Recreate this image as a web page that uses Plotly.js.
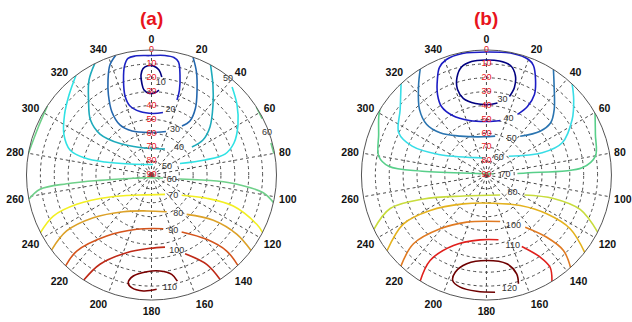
<!DOCTYPE html>
<html><head><meta charset="utf-8">
<script src="https://cdn.plot.ly/plotly-3.0.1.min.js"></script>
<style>html,body{margin:0;padding:0;background:#fff}#chart{width:632px;height:322px}</style>
</head><body><div id="chart"></div>
<script>
// angular / radial ticks
const angleTicks = [0,20,40,60,80,100,120,140,160,180,200,220,240,260,280,300,320,340];
const radialTicks = [0,10,20,30,40,50,60,70,80,90];
const panelTitles = ['(a)','(b)'];

// ---------- Panel (a): contour lines, r = elevation label, t = azimuth ----------
const a10_r = [19,14,11.5,11.3,13,17.6,23.6,28.6,31.2,30.7,28.6];
const a10_t = [6,4,1,-2,-4.5,-6,-6,-5,-1.5,2.5,5];
const a20_r = [44.3,45.7,43.6,38,30,18.7,9.1,4.4,3.5,4,3.4,3.9,6.3,15.1,25.6,33];
const a20_t = [10.4,1.4,-10.3,-17.3,-18.5,-16.4,-13.9,-11.4,-7.9,-0.7,6.4,10.8,13.4,15.9,18.2,18.8];
const a30_r = [0,5.3,14.8,24.6,36.4,47.4,55.4,59.4,57,null,48.5,42.3,32.3,20.6,9.1,0];
const a30_t = [-16.6,-20.7,-24.6,-28.3,-32.1,-32.2,-23.9,-2,18.4,null,31.9,35.5,33.3,28.2,23.6,19.4];
const a40_r = [0,8.1,19.5,30.9,42.6,58,68.5,68.9,null,54.6,45.2,35.5,22.9,11.5,0];
const a40_t = [-27,-33.3,-40,-48,-51.5,-45,-22.7,27.4,null,55.3,55.8,50.6,41.3,34.3,28.2];
const a50_r = [0,7.3,13.9,20.7,28.6,40.6,55.2,72.6,82.4,null,67.9,50,35,26.3,18.1,10.4,4.1];
const a50_t = [-37.2,-45.9,-55.4,-65.4,-72.9,-75.7,-74.4,-62.9,8.1,null,68,74.3,74.1,68.8,60,50.7,42.5];
const a60L_r = [0,1.5,0];
const a60L_t = [-56.3,-66.4,-80.1];
const a60R_r = [0,0.6,null,1.0,0.5];
const a60R_t = [57,63,null,75,80];
const a60_r = [0,9.1,28.7,52.7,76.7,86,81.4,null,69.3,42.8,25.9,8.5,0];
const a60_t = [258.8,262.7,264.1,264.1,259.7,241,104.6,null,98,95.3,96.4,99,102.7];
const a70_r = [0,13.4,32.2,56.2,73.4,73,null,63.8,46.9,27,6.3,0];
const a70_t = [242.6,247.3,248.6,242.1,209.9,145,null,123.9,112.9,110.8,115.1,117.3];
const a80_r = [0,16.8,38,56.7,63.9,61.4,null,52,34.8,15.3,0];
const a80_t = [233.1,236.6,233.7,217.5,187.6,157.5,null,138.2,126.2,124.8,127.2];
const a90_r = [0,13.2,35.5,49.5,50.4,null,43.6,29,13,0];
const a90_t = [223.4,224.5,216.3,195.2,167.6,null,152.1,139.4,135.3,136.3];
const a100_r = [0,15.8,31.3,37.2,37.2,null,28.4,14.4,0];
const a100_t = [212.8,210,197.7,181.2,169.4,null,156.9,148.3,146.7];
const a110_r = [7.6,6.3,7.6,10.7,16.1,20.3,20.6,17,11.4];
const a110_t = [177.4,184,190,192.2,190.2,182.8,174.9,168.5,166.3];
const aLabel_text = ['10','20','30','40','50','50','60','60','70','80','90','100','110'];
const aLabel_r = [23.6,40.9,53,62,77.3,1.6,1.4,75.1,68.2,56.1,46.7,32.8,7.8];
const aLabel_t = [5.7,16.2,27.2,45,61.3,38.6,70,102,133.9,145.3,158.7,161.5,170.7];

// ---------- Panel (b) ----------
const b30_r = [31.1,23.8,15.4,9.3,7.4,7.2,7.6,10.2,16.6,25,32.5,37.9,39.2,37.6];
const b30_t = [16.3,17.7,16.2,12.4,6.5,-0.5,-7.5,-13,-16.8,-18.7,-16.7,-8.7,2.4,8.7];
const b40_r = [41,32.5,22.5,12.7,4.2,1.5,0.5,1.4,0.8,2,5.5,12.7,22.2,31,40.7,48.9,51.5,49.5];
const b40_t = [27.1,30.9,30.8,27.2,23.2,20,12.1,0.5,-11.2,-19.1,-23.6,-27.2,-31.3,-33.3,-29.7,-17.3,1.1,14.4];
const b50_r = [0,9.5,22.5,33.7,44.9,56.2,62.4,61.3,null,53,40.1,30.4,22.2,9.6,0];
const b50_t = [-32,-37.4,-45.6,-49.8,-47.7,-34.1,-4.5,12.6,null,41,50.8,50.9,46,37.3,32.4];
const b60_r = [0,12,19.9,32.6,52.6,76.4,77.6,null,69,46.8,30.7,16.5,6.9,0];
const b60_t = [-43.1,-52.8,-64.3,-68.8,-66.7,-24.1,-3.3,null,49.9,68.3,67,57.1,49.1,43.3];
const b70_r = [0,1.7,7.1,11.3,19.4,43.6,86.7,84.9,null,67.7,59.5,20.9,10.4,6.3,0];
const b70_t = [-58.4,-61.4,-69.4,-80.1,-84.9,-86.6,-70.8,80.3,null,87.2,87,85.7,80.2,69.6,60.3];
const b80_r = [0,16.6,41.5,67.6,72.6,null,59.1,38.9,18.1,0];
const b80_t = [244.2,250.8,249.1,227.6,145.6,null,117.8,109.3,110.2,117.2];
const b90_r = [0,20.7,42.1,63.4,69.1,57.2,38.4,18.4,0];
const b90_t = [232.7,239.5,237.8,218.6,166.1,132.1,122.8,122.7,128.2];
const b100_r = [0,17.8,38.9,53.2,55.1,null,43.2,27.6,12.4,0];
const b100_t = [223.2,226.7,220.7,202.7,163.6,null,143.4,135.9,134.4,137.7];
const b110_r = [0,16.3,34,43.1,42.6,null,32.6,19.3,9.3,0];
const b110_t = [212,213.4,205.1,185.6,169.5,null,153.7,146.8,145.4,148.4];
const b120_r = [8.4,15.6,24.4,28.4,24.5,16.5,10.2,7.1,6,5.4];
const b120_t = [163.6,163,167.1,179.8,192.5,197.8,197.7,193.2,184.8,175.8];
const bLabel_text = ['30','40','50','60','70','80','100','110','120'];
const bLabel_r = [34.4,46.5,58.2,74.8,76.3,67.4,48.8,35.9,6.4];
const bLabel_t = [12,21.4,35,35.6,88.5,123.9,151.9,159.5,168.6];

// ---------- styles ----------
const colA = {c10:'#000080',c20:'#1c22c4',c30:'#2467ad',c40:'#1eaabb',c50:'#30e2e4',c60:'#6fd08a',c70:'#f2ef22',c80:'#dca128',c90:'#d4541c',c100:'#bf2a18',c110:'#7a0000'};
const colB = {c30:'#000080',c40:'#1c1cc4',c50:'#2a74b0',c60:'#38dde6',c70:'#58cf8a',c80:'#c8dc3c',c90:'#e4b21e',c100:'#e07a22',c110:'#e0201c',c120:'#6e0000'};

function line(r, t, color, sub) {
  return {type:'scatterpolar', r:r, theta:t, mode:'lines', subplot:sub,
    line:{color:color, width:1.6, shape:'spline', smoothing:1}, connectgaps:false, hoverinfo:'skip', showlegend:false};
}
function labels(r, t, txt, sub, color, size) {
  return {type:'scatterpolar', r:r, theta:t, text:txt, mode:'text', subplot:sub,
    textfont:{color:color, size:size, family:'Liberation Sans, Arial'}, textposition:'middle center',
    hoverinfo:'skip', showlegend:false, cliponaxis:false};
}

const traces = [
  line(a10_r,a10_t,colA.c10,'polar'), line(a20_r,a20_t,colA.c20,'polar'),
  line(a30_r,a30_t,colA.c30,'polar'), line(a40_r,a40_t,colA.c40,'polar'),
  line(a50_r,a50_t,colA.c50,'polar'), line(a60L_r,a60L_t,colA.c60,'polar'),
  line(a60R_r,a60R_t,colA.c60,'polar'), line(a60_r,a60_t,colA.c60,'polar'),
  line(a70_r,a70_t,colA.c70,'polar'), line(a80_r,a80_t,colA.c80,'polar'),
  line(a90_r,a90_t,colA.c90,'polar'), line(a100_r,a100_t,colA.c100,'polar'),
  line(a110_r,a110_t,colA.c110,'polar'),
  line(b30_r,b30_t,colB.c30,'polar2'), line(b40_r,b40_t,colB.c40,'polar2'),
  line(b50_r,b50_t,colB.c50,'polar2'), line(b60_r,b60_t,colB.c60,'polar2'),
  line(b70_r,b70_t,colB.c70,'polar2'), line(b80_r,b80_t,colB.c80,'polar2'),
  line(b90_r,b90_t,colB.c90,'polar2'), line(b100_r,b100_t,colB.c100,'polar2'),
  line(b110_r,b110_t,colB.c110,'polar2'), line(b120_r,b120_t,colB.c120,'polar2'),
  labels(aLabel_r,aLabel_t,aLabel_text,'polar','#333',9),
  labels(bLabel_r,bLabel_t,bLabel_text,'polar2','#333',9),
  labels(radialTicks, radialTicks.map(()=>0), radialTicks.map(String),'polar','#e8141c',9),
  labels(radialTicks, radialTicks.map(()=>0), radialTicks.map(String),'polar2','#e8141c',9)
];

function polarLayout(xdom) {
  return {
    domain:{x:xdom, y:[0.0683,0.8447]},
    bgcolor:'white',
    angularaxis:{rotation:90, direction:'clockwise', tickmode:'array', tickvals:angleTicks,
      ticktext:angleTicks.map(String), ticks:'outside', ticklen:2, tickcolor:'rgba(0,0,0,0)',
      showline:true, linecolor:'#555', linewidth:1,
      showgrid:true, gridcolor:'#4a4a4a', griddash:'dot', gridwidth:1,
      tickfont:{size:10.5, family:'Liberation Sans, Arial', color:'#111', weight:'bold'}},
    radialaxis:{range:[90,0], tickmode:'array', tickvals:radialTicks, showticklabels:false,
      ticks:'', showline:false, showgrid:true, gridcolor:'#4a4a4a', griddash:'dot', gridwidth:1}
  };
}

const layout = {
  width:632, height:322, margin:{l:0,r:0,t:0,b:0}, paper_bgcolor:'white', showlegend:false,
  polar: polarLayout([0.0419,0.4375]),
  polar2: polarLayout([0.5719,0.9675]),
  annotations:[
    {text:panelTitles[0], xref:'paper', yref:'paper', x:0.2397, y:0.941, showarrow:false,
     xanchor:'center', yanchor:'middle', font:{size:19, color:'#e8141c', family:'Liberation Sans, Arial', weight:'bold'}},
    {text:panelTitles[1], xref:'paper', yref:'paper', x:0.7697, y:0.941, showarrow:false,
     xanchor:'center', yanchor:'middle', font:{size:19, color:'#e8141c', family:'Liberation Sans, Arial', weight:'bold'}}
  ]
};

Plotly.newPlot('chart', traces, layout, {displayModeBar:false, staticPlot:true});
</script>
</body></html>
